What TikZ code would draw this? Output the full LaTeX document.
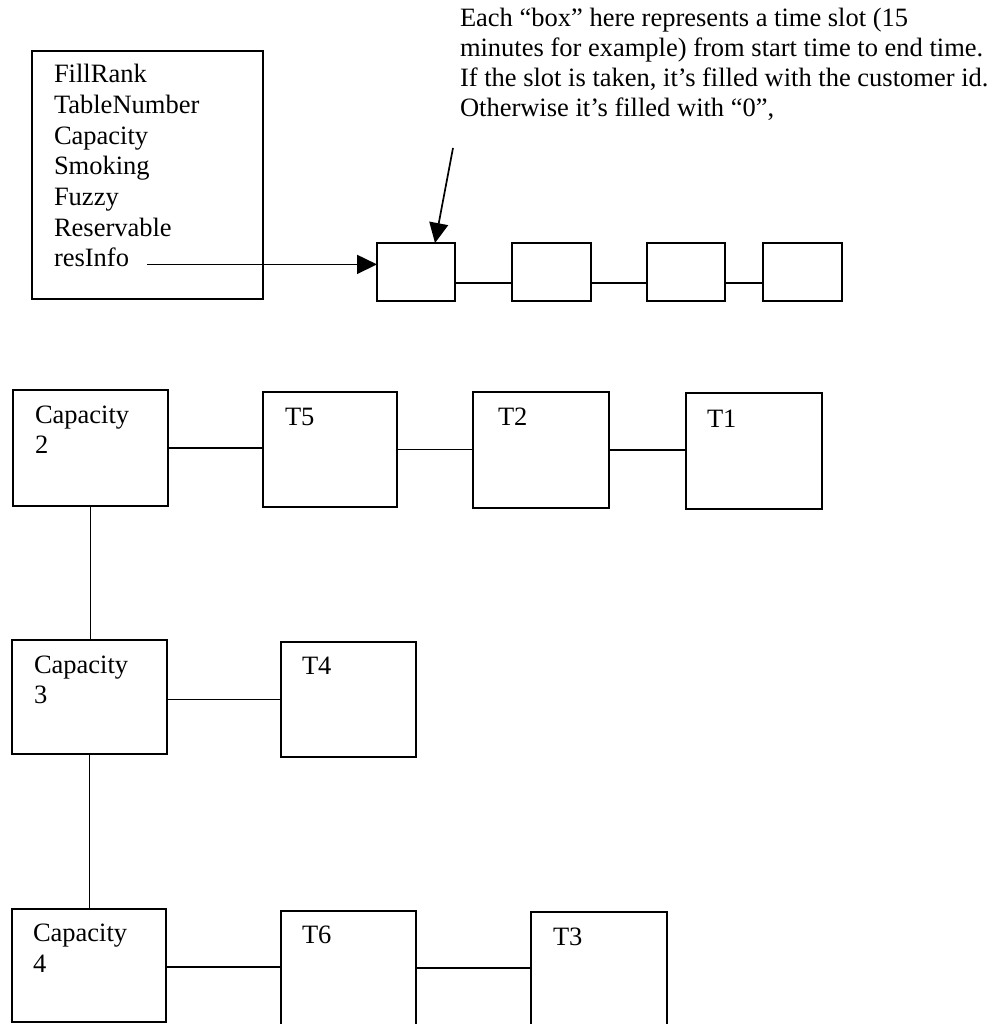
\documentclass[tikz,border=0pt]{standalone}
\usepackage{fontspec}
\setmainfont{Liberation Serif}
\usetikzlibrary{arrows.meta}
\begin{document}
\begin{tikzpicture}[x=1pt,y=-1pt,
  txt/.style={anchor=base west, inner sep=0pt, outer sep=0pt,
              font=\fontsize{26.5}{30.5}\selectfont},
  cell/.style={draw, line width=1.9pt, anchor=north west,
               inner sep=0pt, outer sep=0pt},
  link/.style={line width=1.7pt},
  ptr/.style={line width=1.7pt, -{Triangle[length=20pt,width=19pt]}}]
\clip (0,0) rectangle (1003,1024);

% table record with its fields
\node[cell, minimum width=231pt, minimum height=248pt] (rec) at (32,51) {};
\foreach \f [count=\i from 0] in {FillRank,TableNumber,Capacity,Smoking,Fuzzy,Reservable}
  \node[txt] (f\i) at (54, 82.7+30.67*\i) {\f};
\node[txt] (resinfo) at (54,266.7) {resInfo};

% time slot list
\node[cell, minimum width=78pt, minimum height=58pt] (s1) at (377,243) {};
\node[cell, minimum width=79pt, minimum height=58pt] (s2) at (512,243) {};
\node[cell, minimum width=78pt, minimum height=58pt] (s3) at (647,243) {};
\node[cell, minimum width=79pt, minimum height=58pt] (s4) at (763,243) {};
\draw[link] ([yshift=-11pt]s1.east) -- ([yshift=-11pt]s1.east -| s2.west);
\draw[link] ([yshift=-11pt]s2.east) -- ([yshift=-11pt]s2.east -| s3.west);
\draw[link] ([yshift=-11pt]s3.east) -- ([yshift=-11pt]s3.east -| s4.west);
\draw[ptr] ([xshift=18pt]resinfo.mid east) -- (resinfo.mid east -| s1.west);

% note about the slots
\node[txt] (n1) at (460,27) {Each “box” here represents a time slot (15};
\node[txt] (n2) at (460,57) {minutes for example) from start time to end time.};
\node[txt] (n3) at (460,87) {If the slot is taken, it’s filled with the customer id.};
\node[txt] (n4) at (460,117) {Otherwise it’s filled with “0”,};
\coordinate (tail) at (453,148);
\draw[ptr] (tail) -- ([xshift=19pt]s1.north);

% capacity lists
\node[cell, minimum width=155pt, minimum height=116pt] (cap2) at (13,390) {};
\node[cell, minimum width=134pt, minimum height=115pt] (t5) at (263,392) {};
\node[cell, minimum width=136pt, minimum height=116pt] (t2) at (473,392) {};
\node[cell, minimum width=136pt, minimum height=116pt] (t1) at (686,393) {};
\node[cell, minimum width=155pt, minimum height=114pt] (cap3) at (12,640) {};
\node[cell, minimum width=135pt, minimum height=115pt] (t4) at (281,642) {};
\node[cell, minimum width=154pt, minimum height=113pt] (cap4) at (12,909) {};
\node[cell, minimum width=135pt, minimum height=125pt] (t6) at (281,911) {};
\node[cell, minimum width=136pt, minimum height=125pt] (t3) at (531,912) {};

\node[txt] at ([xshift=22pt,yshift=-33pt]cap2.north west) {Capacity};
\node[txt] at ([xshift=22pt,yshift=-63pt]cap2.north west) {2};
\node[txt] at ([xshift=22pt,yshift=-33pt]cap3.north west) {Capacity};
\node[txt] at ([xshift=22pt,yshift=-63pt]cap3.north west) {3};
\node[txt] at ([xshift=21pt,yshift=-32pt]cap4.north west) {Capacity};
\node[txt] at ([xshift=21pt,yshift=-63pt]cap4.north west) {4};
\node[txt] at ([xshift=22pt,yshift=-33pt]t5.north west) {T5};
\node[txt] at ([xshift=25pt,yshift=-33pt]t2.north west) {T2};
\node[txt] at ([xshift=21pt,yshift=-34pt]t1.north west) {T1};
\node[txt] at ([xshift=21pt,yshift=-32pt]t4.north west) {T4};
\node[txt] at ([xshift=21pt,yshift=-32pt]t6.north west) {T6};
\node[txt] at ([xshift=22pt,yshift=-33pt]t3.north west) {T3};

\draw[link] (cap2.east) -- (cap2.east -| t5.west);
\draw[link] (t5.east) -- (t5.east -| t2.west);
\draw[link] (t2.east) -- (t2.east -| t1.west);
\draw[link] (cap2.south) -- (cap2.south |- cap3.north);
\draw[link] (t4.west -| cap3.east) -- (t4.west);
\draw[link] (cap3.south) -- (cap3.south |- cap4.north);
\draw[link] ([yshift=-1.5pt]cap4.east) -- ([yshift=-1.5pt]cap4.east -| t6.west);
\draw[link] ([yshift=-2.5pt]t6.east |- cap4.east) -- ([yshift=-2.5pt]t3.west |- cap4.east);
\end{tikzpicture}
\end{document}
